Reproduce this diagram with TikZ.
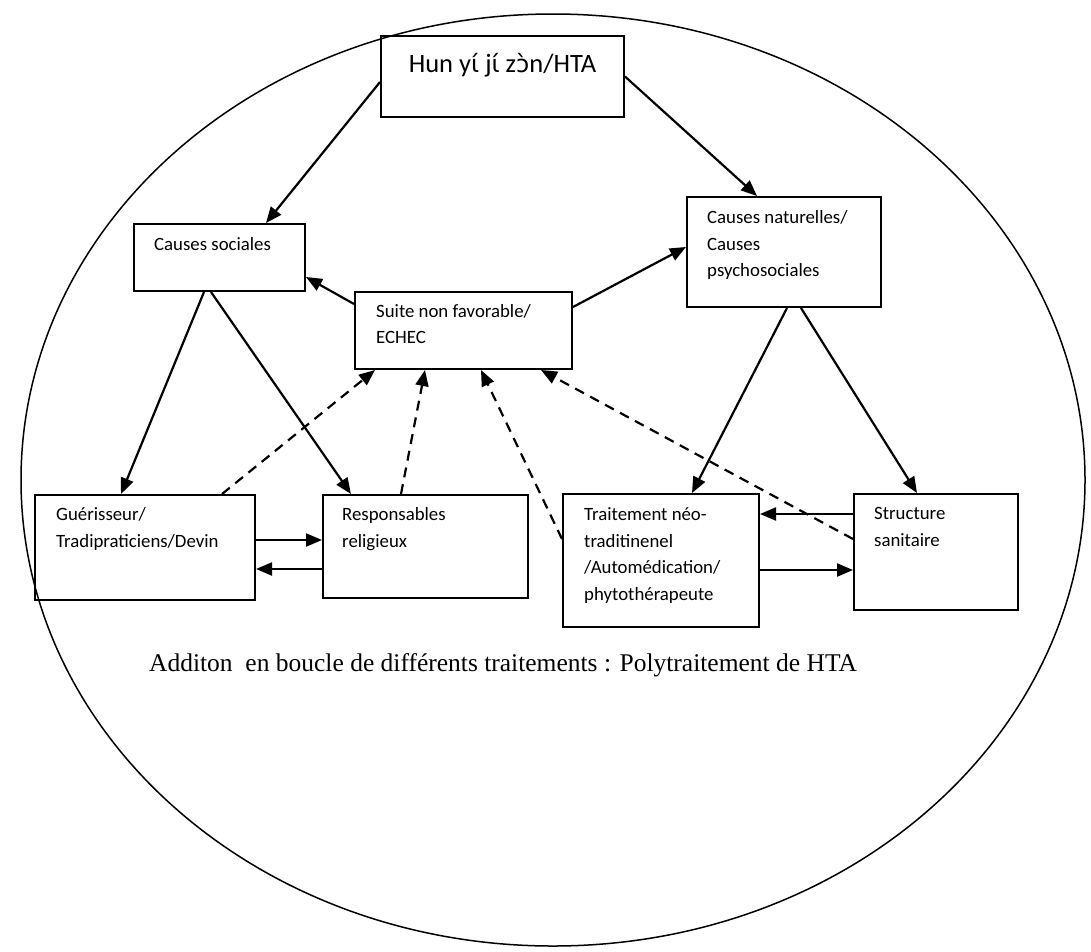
\documentclass[tikz,border=0pt]{standalone}
\usepackage{fontspec}
\setmainfont{Carlito}
\newfontfamily\timesfont{Liberation Serif}
\newfontfamily\djv{DejaVu Sans}
\usetikzlibrary{arrows.meta}
\tikzset{
  box/.style={draw, line width=2pt, minimum width=#1, inner sep=0pt},
  lbl/.style={anchor=north west, inner sep=0pt, align=left, font=\fontsize{18.8}{26.5}\selectfont},
  arr/.style={line width=2.2pt, -{Triangle[length=16pt,width=13pt]}},
  darr/.style={arr, dash pattern=on 10pt off 7pt},
}
\begin{document}
\begin{tikzpicture}[x=1pt,y=-1pt]
\useasboundingbox (0,0) rectangle (1091,951);
\draw[line width=1.5pt] (553,480) ellipse [x radius=532, y radius=466];
% boxes
\node[box=243pt, minimum height=81pt] (title) at (502.5,76.5) {};
\node[box=171pt, minimum height=67pt] (cs) at (219.5,257.5) {};
\node[box=194pt, minimum height=110pt] (cn) at (784,252) {};
\node[box=217pt, minimum height=77pt] (suite) at (463.5,330.5) {};
\node[box=220pt, minimum height=105pt] (gu) at (145,547.5) {};
\node[box=205pt, minimum height=103pt] (rr) at (425.5,546.5) {};
\node[box=196pt, minimum height=133pt] (tr) at (661,560.5) {};
\node[box=164pt, minimum height=116pt] (ss) at (936,552) {};
% texts
\node[anchor=north, inner sep=0pt, font=\fontsize{26.5}{30}\selectfont] (titletext) at ([yshift=-18pt]title.north) {Hun y{\djv\fontsize{24}{30}\selectfont ɩ́} j{\djv\fontsize{24}{30}\selectfont ɩ́} z{\djv\fontsize{24}{30}\selectfont ɔ̀}n/HTA};
\node[lbl] (cstext) at ([xshift=21pt,yshift=-14.5pt]cs.north west) {Causes sociales};
\node[lbl] (cntext) at ([xshift=21pt,yshift=-14.5pt]cn.north west) {Causes naturelles/\\Causes\\psychosociales};
\node[lbl] (suitetext) at ([xshift=22pt,yshift=-13pt]suite.north west) {Suite non favorable/\\ECHEC};
\node[lbl] (gutext) at ([xshift=22pt,yshift=-13.5pt]gu.north west) {Guérisseur/\\Tradipraticiens/Devin};
\node[lbl] (rrtext) at ([xshift=20pt,yshift=-13.5pt]rr.north west) {Responsables\\religieux};
\node[lbl] (trtext) at ([xshift=22pt,yshift=-14.5pt]tr.north west) {Traitement néo-\\traditinenel\\/Automédication/\\phytothérapeute};
\node[lbl] (sstext) at ([xshift=21pt,yshift=-14.5pt]ss.north west) {Structure\\sanitaire};
\node[inner sep=0pt, font=\timesfont\fontsize{25.5}{30}\selectfont] (bottom) at (503,665) {Additon\ \ en boucle de différents traitements : Polytraitement de HTA};
% solid arrows
\draw[arr] ([yshift=-5.5pt]title.west) -- ([xshift=133pt]cs.north west);
\draw[arr] (title.east) -- ([xshift=71pt]cn.north west);
\draw[arr] ([yshift=-13pt]suite.north west) -- ([yshift=-54pt]cs.north east);
\draw[arr] ([yshift=-16pt]suite.north east) -- ([yshift=-51pt]cn.north west);
\draw[arr] ([xshift=71pt]cs.south west) -- ([xshift=87pt]gu.north west);
\draw[arr] ([xshift=78pt]cs.south west) -- ([xshift=29pt]rr.north west);
\draw[arr] ([xshift=101pt]cn.south west) -- ([xshift=130pt]tr.north west);
\draw[arr] ([xshift=115pt]cn.south west) -- ([xshift=64pt]ss.north west);
\draw[arr] ([yshift=-46pt]gu.north east) -- ([yshift=-46pt]rr.north west);
\draw[arr] ([yshift=-75pt]rr.north west) -- ([yshift=-75pt]gu.north east);
\draw[arr] ([yshift=-21pt]ss.north west) -- ([yshift=-21pt]tr.north east);
\draw[arr] ([yshift=-77pt]tr.north east) -- ([yshift=-77pt]ss.north west);
% dashed arrows
\draw[darr] ([xshift=188pt]gu.north west) -- ([xshift=21pt]suite.south west);
\draw[darr] ([xshift=79pt]rr.north west) -- ([xshift=71pt]suite.south west);
\draw[darr] ([yshift=-46pt]tr.north west) -- ([xshift=127pt]suite.south west);
\draw[darr] ([yshift=-46pt]ss.north west) -- ([xshift=187pt]suite.south west);
\end{tikzpicture}
\end{document}
